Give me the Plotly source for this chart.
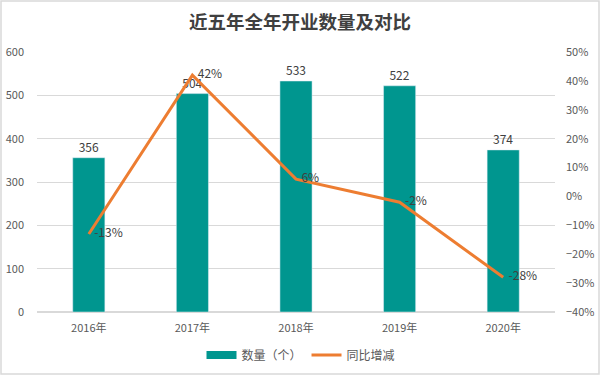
import plotly.graph_objects as go

years = ["2016年", "2017年", "2018年", "2019年", "2020年"]
counts = [356, 504, 533, 522, 374]
yoy = [-0.13, 0.42, 0.06, -0.02, -0.28]
yoy_labels = ["-13%", "42%", "6%", "-2%", "-28%"]

FONT = "Noto Sans CJK SC, Microsoft YaHei, sans-serif"
TEAL = "#00968F"
ORANGE = "#ED7D31"
TXT = "#595959"

fig = go.Figure()
fig.add_trace(go.Bar(
    x=years, y=counts, name="数量（个）", marker_color=TEAL, width=0.31,
    text=[str(v) for v in counts], textposition="outside",
    textfont=dict(size=12, color="#404040"), cliponaxis=False, showlegend=False,
))
# legend proxy for bars (wide rectangle like the reference)
fig.add_trace(go.Scatter(
    x=[None], y=[None], name="数量（个）", mode="lines",
    line=dict(color=TEAL, width=8),
))
fig.add_trace(go.Scatter(
    x=years, y=yoy, name="同比增减", mode="lines+text", yaxis="y2",
    line=dict(color=ORANGE, width=3), text=["  " + t for t in yoy_labels],
    textposition="middle right", textfont=dict(size=12, color="#404040"),
    cliponaxis=False,
))

W, H = 600, 375
ml, mr, mt, mb = 37, 45, 52, 63
pw, ph = W - ml - mr, H - mt - mb

fig.update_layout(
    width=W, height=H,
    margin=dict(l=ml, r=mr, t=mt, b=mb, autoexpand=False),
    paper_bgcolor="white", plot_bgcolor="white",
    font=dict(family=FONT, size=11, color=TXT),
    title=dict(text="<b>近五年全年开业数量及对比</b>", x=300 / W, xanchor="center",
               y=1 - 23 / H, yanchor="middle",
               font=dict(size=18.5, color="#404040", family=FONT)),
    xaxis=dict(showgrid=False, showline=False, ticks="", automargin=False,
               tickfont=dict(size=11, color=TXT), ticklabelstandoff=8),
    yaxis=dict(range=[0, 600], dtick=100, showgrid=True, gridcolor="#D9D9D9",
               gridwidth=1, zeroline=True, zerolinecolor="#D9D9D9", automargin=False,
               tickfont=dict(size=11, color=TXT), ticks="", ticklabelstandoff=12),
    yaxis2=dict(range=[-0.4, 0.5], dtick=0.1, tickformat=".0%", overlaying="y",
                side="right", showgrid=False, zeroline=False, automargin=False,
                tickfont=dict(size=11, color=TXT), ticklabelstandoff=10),
    legend=dict(orientation="h", x=(301 - ml) / pw, xanchor="center",
                y=-(355 - (mt + ph)) / ph, yanchor="middle",
                font=dict(size=12, color=TXT), traceorder="normal"),
    showlegend=True,
    bargap=0.69,
)
fig.add_shape(type="rect", xref="paper", yref="paper",
              x0=-(ml - 1) / pw, x1=1 + (mr - 1) / pw,
              y0=-(mb - 1) / ph, y1=1 + (mt - 1) / ph,
              line=dict(color="#D9D9D9", width=1.5), layer="below")

fig.write_html("out.html", config={"displayModeBar": False},
               post_script="document.body.style.margin='0';document.body.style.overflow='hidden';")
